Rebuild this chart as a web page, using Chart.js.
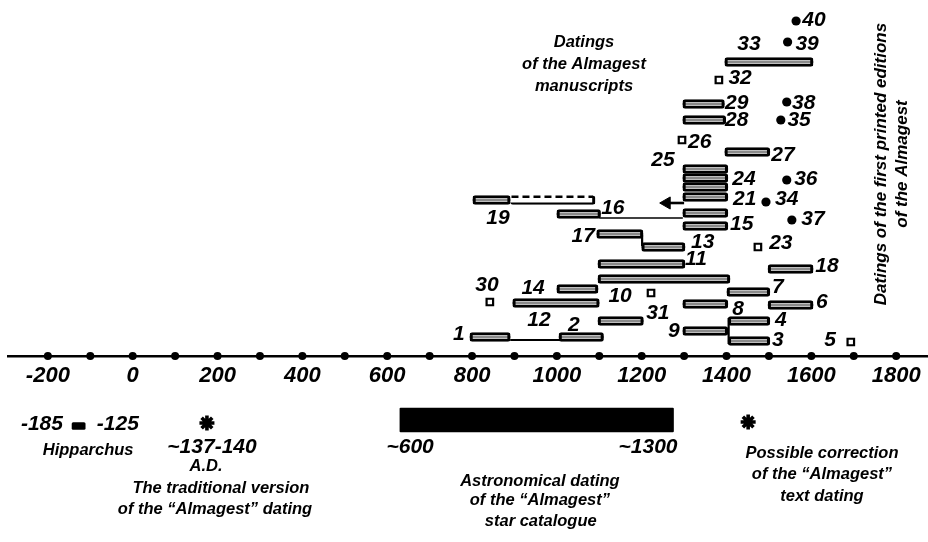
<!DOCTYPE html>
<html><head><meta charset="utf-8">
<script src="https://cdn.jsdelivr.net/npm/chart.js@4"></script>
<style>html,body{margin:0;padding:0;background:#fff}#wrap{width:928px;height:542px;position:relative}</style>
</head><body><div id="wrap"><canvas id="c"></canvas></div>
<script>
// ---- axis ----
const xTickValues = [-200, 0, 200, 400, 600, 800, 1000, 1200, 1400, 1600, 1800];
const axisDotYears = [-200,-100,0,100,200,300,400,500,600,700,800,900,1000,1100,1200,1300,1400,1500,1600,1700,1800];

// ---- manuscript datings (bars): start year, end year, row level ----
const barIds   = ['1','2','12','14','10','11','31','8','7','6','18','4','9','3','33','29','28','27','24a','24b','24c','21','15a','15b','16','19','17','13'];
const barStart = [795,1005,896,1000,1097,1097,1097,1297,1401,1498,1498,1404,1297,1404,1396,1297,1297,1396,1297,1297,1297,1297,1297,1297,1000,802,1094,1200];
const barEnd   = [890,1110,1100,1097,1408,1302,1204,1403,1502,1604,1604,1502,1403,1502,1604,1395,1398,1502,1403,1403,1403,1403,1403,1403,1103,890,1203,1302];
const barLevel = [19,19,53,67,77,92,35,52,64,51,87,35,25,15,294,252,236,204,187,178,169,159,143,130,142,156,122,109];

// uncertain extension of 19 (dashed)
const dashStart = [890], dashEnd = [1090], dashLevel = [156];

// single-year manuscripts (small squares)
const squareYear  = [842, 1222, 1693, 1474, 1295, 1382];
const squareLevel = [54, 63, 14, 109, 216, 276];

// first printed editions (dots 34-40)
const printYear  = [1493, 1554, 1542, 1528, 1542, 1544, 1564];
const printLevel = [154, 136, 176, 236, 254, 314, 335];

// connecting lines
const linkFromYear  = [890, 1100, 1405, 1201];
const linkToYear    = [1007, 1297, 1405, 1201];
const linkFromLevel = [16, 138, 38, 121];
const linkToLevel   = [16, 138, 12, 110];

// arrow from 21
const arrowYear = [1300, 1259];
const arrowLevel = [153, 153];

// spans below the axis: Hipparchus, astronomical dating
const spanStart = [-143, 630];
const spanEnd   = [-112, 1275];
const spanLevel = [-70, -64];

// asterisks
const starYear  = [175, 1451];
const starLevel = [-67, -66];

// number labels
const numLabels = ['1','2','12','14','30','10','11','31','9','8','7','6','18','4','3','5','23','13','17','15','16','19','21','34','37','24','36','25','27','26','28','35','29','38','32','33','39','40'];
const numLabelYear  = [769,1040,958,944,835,1149,1328,1238,1276,1427,1521,1625,1637,1528,1521,1644,1528,1344,1062,1436,1132,861,1443,1542,1604,1441,1587,1250,1533,1337,1424,1571,1424,1582,1432,1453,1590,1606];
const numLabelLevel = [22,31,36,68,71,60,97,43,25,47,69,54,90,36,16,16,113,114,120,132,148,138,157,157,137,177,177,196,201,214,236,236,253,253,278,312,312,336];

// annotation texts
const noteText  = ['-185','-125','~137-140','~600','~1300','Hipparchus','A.D.','The traditional version','of the \u201CAlmagest\u201D dating','Astronomical dating','of the \u201CAlmagest\u201D','star catalogue','Possible correction','of the \u201CAlmagest\u201D','text dating','Datings','of the Almagest','manuscripts'];
const noteBig   = 5; // first five are numeric labels
const noteYear  = [-214,-35,187,654,1215,-105,173,208,194,960,960,962,1625,1625,1625,1064,1064,1064];
const noteLevel = [-68,-68,-91,-91,-91,-94,-110,-132,-153,-125,-144,-165,-97,-118,-140,314,292,270];

const sideText  = ['Datings of the first printed editions', 'of the Almagest'];
const sideYear  = [1766, 1814];
const sideLevel = [192, 192];

// ---- build ----
const xy = (xs, ys) => xs.map((v, i) => ({x: v, y: ys[i]}));
const floatBars = (s, e, l) => s.map((v, i) => ({x: [v, e[i]], y: l[i]}));
const FONT = '"Liberation Sans", Arial, sans-serif';

const datasets = [
  {type:'scatter', data: xy(printYear, printLevel), pointStyle:'circle', pointRadius:4.6, backgroundColor:'#000', borderColor:'#000', borderWidth:0, order:0},
  {type:'scatter', data: xy(squareYear, squareLevel), pointStyle:'rect', pointRadius:4.6, backgroundColor:'#fff', borderColor:'#000', borderWidth:2.2, order:0},
  {type:'scatter', data: xy(starYear, starLevel), pointStyle:'star', pointRadius:7.5, backgroundColor:'#000', borderColor:'#000', borderWidth:3.6, order:0},
  {type:'scatter', data: axisDotYears.map(v => ({x: v, y: 0})), pointStyle:'circle', pointRadius:4, backgroundColor:'#000', borderWidth:0, order:0},
  {type:'line', data: xy(arrowYear, arrowLevel), borderColor:'#000', borderWidth:2.6, backgroundColor:'#000',
    pointStyle:'triangle', pointRotation:-90, pointRadius: c => c.dataIndex === 1 ? 7 : 0, pointBorderWidth:1, fill:false, order:1},
  {type:'line', data: [{x: dashStart[0] + 3, y: dashLevel[0] + 3.3}, {x: dashEnd[0] - 5, y: dashLevel[0] + 3.3}],
    borderColor:'#000', borderWidth:2.6, borderDash:[7,4], pointRadius:0, fill:false, order:1},
  {type:'bar', indexAxis:'y', data: floatBars(dashStart, dashEnd, dashLevel), barThickness:9, grouped:false,
    backgroundColor:'rgba(0,0,0,0)', borderColor:'#000', borderWidth:{left:0, right:2.5, top:0, bottom:1.6}, borderRadius:2.5, borderSkipped:false, order:2},
  {type:'bar', indexAxis:'y', data: floatBars(barStart, barEnd, barLevel), barThickness:9, grouped:false,
    backgroundColor:'rgba(0,0,0,0)', borderColor:'#000', borderWidth:2.5, borderRadius:2.5, borderSkipped:false, order:2},
  {type:'bar', indexAxis:'y', data: floatBars(barStart, barEnd, barLevel), barThickness:1.2, grouped:false,
    backgroundColor:'#8a8a8a', borderWidth:0, order:3},
  {type:'bar', indexAxis:'y', data: floatBars(spanStart.slice(0,1), spanEnd.slice(0,1), spanLevel.slice(0,1)), barThickness:7, grouped:false,
    backgroundColor:'#000', borderWidth:0, borderRadius:1.5, borderSkipped:false, order:2},
  {type:'bar', indexAxis:'y', data: floatBars(spanStart.slice(1), spanEnd.slice(1), spanLevel.slice(1)), barThickness:24, grouped:false,
    backgroundColor:'#000', borderWidth:0, borderRadius:1, borderSkipped:false, order:2},
];
linkFromYear.forEach((v, i) => {
  datasets.push({type:'line', data: [{x: v, y: linkFromLevel[i]}, {x: linkToYear[i], y: linkToLevel[i]}],
    borderColor:'#000', borderWidth: i === 1 ? 1.6 : 2.2, pointRadius:0, fill:false, order:1});
});

const textPlugin = {
  id: 'texts',
  afterDatasetsDraw(chart) {
    const {ctx, scales: {x, y}} = chart;
    ctx.save();
    ctx.fillStyle = '#000';
    ctx.textAlign = 'center';
    ctx.textBaseline = 'middle';
    ctx.font = 'italic bold 21px ' + FONT;
    numLabels.forEach((t, i) => ctx.fillText(t, x.getPixelForValue(numLabelYear[i]), y.getPixelForValue(numLabelLevel[i])));
    noteText.forEach((t, i) => {
      ctx.font = (i < noteBig ? 'italic bold 21px ' : 'italic bold 16.5px ') + FONT;
      ctx.fillText(t, x.getPixelForValue(noteYear[i]), y.getPixelForValue(noteLevel[i]));
    });
    ctx.font = 'italic bold 17px ' + FONT;
    sideText.forEach((t, i) => {
      ctx.save();
      ctx.translate(x.getPixelForValue(sideYear[i]), y.getPixelForValue(sideLevel[i]));
      ctx.rotate(-Math.PI / 2);
      ctx.fillText(t, 0, 0);
      ctx.restore();
    });
    ctx.restore();
  }
};

new Chart(document.getElementById('c'), {
  type: 'bar',
  data: { datasets },
  options: {
    responsive: true, maintainAspectRatio: false, animation: false, devicePixelRatio: 1,
    layout: { autoPadding: false, padding: {left: 8, right: 0, top: 0, bottom: 0} },
    plugins: { legend: {display: false}, tooltip: {enabled: false} },
    scales: {
      x: {
        type: 'linear', min: -294, max: 1875, offset: false, position: {y: 0},
        grid: {display: false, drawTicks: false},
        border: {display: true, color: '#000', width: 2.5},
        afterBuildTicks: s => { s.ticks = xTickValues.map(v => ({value: v})); },
        ticks: { autoSkip: false, maxRotation: 0, padding: 7, color: '#000',
          font: {family: FONT, size: 22, weight: 'bold', style: 'italic'},
          callback: v => String(v) }
      },
      y: { type: 'linear', display: false, min: -186, max: 356, offset: false, beginAtZero: false, grid: {display: false} }
    }
  },
  plugins: [textPlugin]
});
</script></body></html>
